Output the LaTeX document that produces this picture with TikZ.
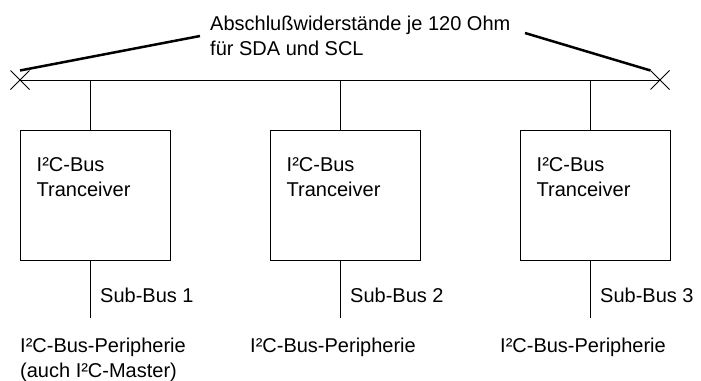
\documentclass[tikz,border=0pt]{standalone}
\usepackage{fontspec}
\setmainfont{Liberation Sans}
\usetikzlibrary{shapes.misc,calc}

\tikzset{
  wire/.style={line width=1pt},
  resistor/.style={line width=2.5pt},
  term/.style={draw, cross out, minimum size=18pt, inner sep=0pt, line width=1pt},
  tbox/.style={draw, rectangle, minimum width=150pt, minimum height=130pt, inner sep=0pt, line width=1pt},
  txt/.style={inner sep=0pt, align=left, font=\fontsize{20}{25}\selectfont}
}

\begin{document}
\begin{tikzpicture}[x=1pt, y=-1pt]
\useasboundingbox (0,0) rectangle (701,380);
% terminating resistors and main bus
\node[term] (termL) at (20,80) {};
\node[term] (termR) at (660,80) {};
\node[txt, anchor=base west] (note) at (210,55) {Abschlußwiderstände je 120 Ohm\\für SDA und SCL};
\coordinate (resL) at (200,36);
\coordinate (resR) at (525,33);
\draw[resistor] (termL.north) -- (resL);
\draw[resistor] (resR) -- (termR.north west);
\draw[wire] (termL.center) -- (termR.center);
% transceivers
\node[tbox] (box1) at (95,195) {};
\node[tbox] (box2) at (345,195) {};
\node[tbox] (box3) at (595,195) {};
\node[txt, anchor=base west] (lbl1) at ($(box1.north west)+(17,67)$) {I²C-Bus\\Tranceiver};
\node[txt, anchor=base west] (lbl2) at ($(box2.north west)+(17,67)$) {I²C-Bus\\Tranceiver};
\node[txt, anchor=base west] (lbl3) at ($(box3.north west)+(17,67)$) {I²C-Bus\\Tranceiver};
% taps and sub-buses
\coordinate (tap1) at (90,80);
\coordinate (tap2) at (340,80);
\coordinate (tap3) at (590,80);
\coordinate (end1) at (90,318);
\coordinate (end2) at (340,318);
\coordinate (end3) at (590,318);
\draw[wire] (tap1) -- (tap1 |- box1.north);
\draw[wire] (tap2) -- (tap2 |- box2.north);
\draw[wire] (tap3) -- (tap3 |- box3.north);
\draw[wire] (end1 |- box1.south) -- (end1);
\draw[wire] (end2 |- box2.south) -- (end2);
\draw[wire] (end3 |- box3.south) -- (end3);
\node[txt, anchor=base west] (sub1) at (100,302) {Sub-Bus 1};
\node[txt, anchor=base west] (sub2) at (350,302) {Sub-Bus 2};
\node[txt, anchor=base west] (sub3) at (600,302) {Sub-Bus 3};
% peripherals
\node[txt, anchor=base west] (per1) at (20,377) {I²C-Bus-Peripherie\\(auch I²C-Master)};
\node[txt, anchor=base west] (per2) at (250,352) {I²C-Bus-Peripherie};
\node[txt, anchor=base west] (per3) at (500,352) {I²C-Bus-Peripherie};
\end{tikzpicture}
\end{document}
